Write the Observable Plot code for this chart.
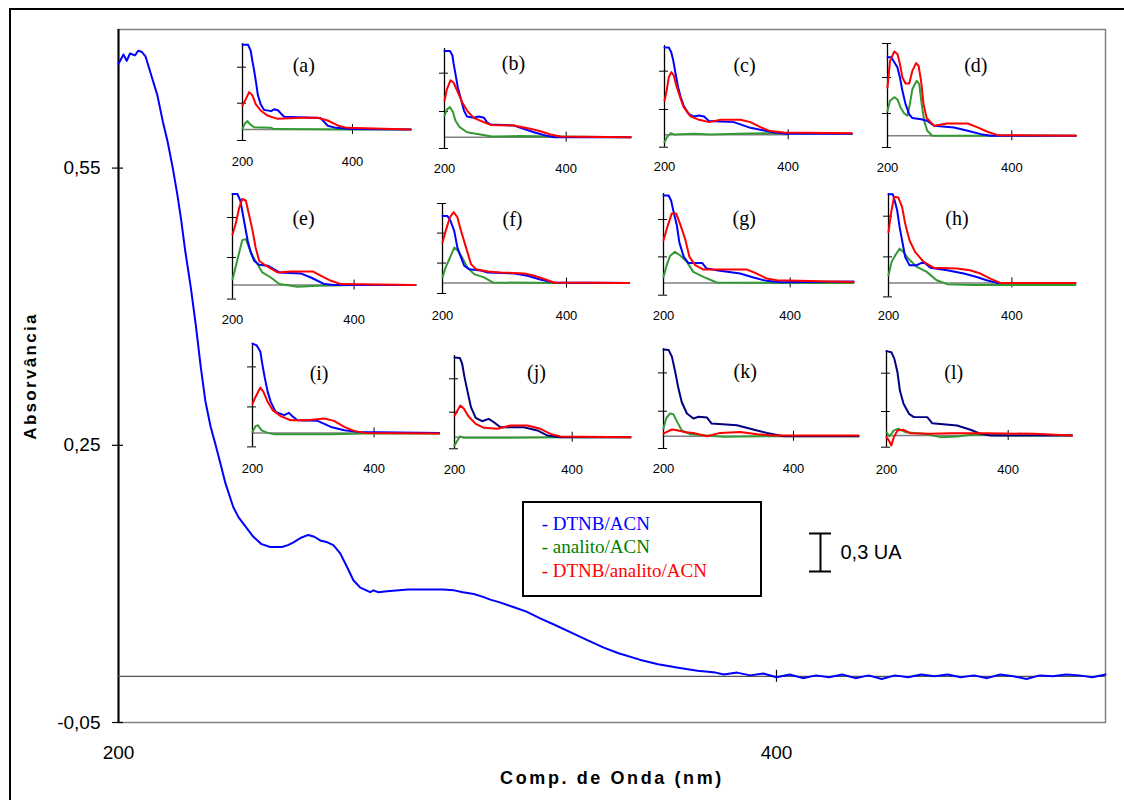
<!DOCTYPE html>
<html><head><meta charset="utf-8">
<script src="https://cdn.jsdelivr.net/npm/d3@7"></script>
<script src="https://cdn.jsdelivr.net/npm/@observablehq/plot@0.6"></script>
<style>
body{margin:0;background:#fff;}
#wrap{position:relative;width:1124px;height:800px;overflow:hidden;font-family:"Liberation Sans",Arial,sans-serif;background:#fff;}
#wrap svg{position:absolute;overflow:visible;}
#outer{position:absolute;left:9px;top:8px;width:1300px;height:1000px;border:2px solid #000;box-sizing:border-box;}
#legend{position:absolute;left:521.7px;top:500.7px;width:240px;height:96.6px;border:2px solid #000;box-sizing:border-box;padding:9px 0 0 18px;font-family:"Liberation Serif","Times New Roman",serif;font-size:19px;line-height:23.4px;background:#fff;}
</style></head><body><div id="wrap"><div id="outer"></div></div>
<script>
// ---------- main spectrum (DTNB/ACN) ----------
const mainWavelength = [200,201.5,202.5,203.5,205,206,207,208.2,210,211.8,213.5,214.9,216.5,217.9,219,220.3,222,223.5,225,226.4,228,229.4,231,232.5,234.9,236.5,238,241,243.5,246.1,249.7,251.5,253.2,255.5,257.7,259.5,261.3,263.5,265.3,267.4,269.5,271.4,273.5,276.5,277.5,279,281.6,288,298.6,302,304.7,308,310.8,313,315.9,320,324,328,333,337.8,342,347.5,352,358.4,364,370.6,376,381.5,384,388,392,396,400,404,408,412,416,420,424,428,432,436,440,444,448,452,456,460,464,468,472,476,480,484,488,492,496,500];
const mainAbsorbance = [0.663,0.673,0.666,0.674,0.672,0.677,0.676,0.671,0.650,0.629,0.600,0.579,0.550,0.521,0.495,0.460,0.420,0.380,0.335,0.298,0.270,0.252,0.230,0.209,0.183,0.172,0.165,0.151,0.143,0.140,0.140,0.142,0.145,0.150,0.153,0.151,0.147,0.145,0.142,0.133,0.118,0.104,0.096,0.091,0.093,0.091,0.092,0.094,0.094,0.093,0.091,0.089,0.086,0.083,0.080,0.075,0.070,0.063,0.055,0.047,0.040,0.031,0.025,0.018,0.013,0.009,0.006,0.004,0.002,0.004,0.001,0.003,-0.001,0.002,-0.002,0.001,-0.001,0.002,-0.002,0.001,-0.003,0.001,-0.001,0.002,0.000,0.002,-0.001,0.001,-0.002,0.002,0.000,-0.003,0.001,0.000,0.002,0.001,-0.001,0.002];
const mainYTicks = [0.55, 0.25, -0.05];
const mainXTicks = [200, 400];

// ---------- inset spectra [nm, absorbance] ----------
const a_DTNB = [[200,0.67],[210,0.67],[215,0.62],[218,0.54],[221,0.47],[225,0.36],[228,0.27],[233,0.20],[239,0.155],[252,0.145],[258,0.16],[265,0.15],[270,0.125],[276,0.10],[342,0.09],[355,0.03],[370,0.013],[397,0.003],[506,0]];
const a_Analito = [[200,0.005],[204,0.045],[209,0.066],[214,0.04],[221,0.018],[252,0.013],[258,0.003],[403,0],[506,0]];
const a_Mix = [[200,0.19],[206,0.24],[212,0.295],[218,0.27],[224,0.20],[233,0.15],[245,0.11],[264,0.084],[306,0.092],[336,0.092],[355,0.071],[373,0.032],[390,0.013],[506,0]];

const b_DTNB = [[200,0.68],[209,0.68],[213,0.645],[215,0.58],[218,0.50],[222,0.39],[226,0.32],[232,0.21],[237,0.163],[248,0.153],[256,0.163],[265,0.153],[270,0.118],[276,0.10],[314,0.092],[330,0.066],[347,0.039],[366,0.013],[380,0],[506,0]];
const b_Analito = [[200,0.17],[204,0.22],[209,0.237],[214,0.197],[218,0.13],[225,0.079],[237,0.039],[254,0.026],[278,0.005],[325,0.01],[380,0.005],[506,0]];
const b_Mix = [[200,0.29],[204,0.38],[210,0.45],[215,0.43],[222,0.355],[229,0.276],[237,0.21],[248,0.153],[265,0.118],[276,0.097],[314,0.092],[341,0.066],[358,0.047],[374,0.021],[391,0.005],[506,0]];

const c_DTNB = [[200,0.69],[207,0.69],[211,0.65],[214,0.59],[218,0.48],[222,0.376],[226,0.30],[231,0.23],[239,0.166],[247,0.145],[256,0.153],[264,0.145],[272,0.108],[312,0.10],[339,0.055],[361,0.034],[377,0.018],[398,0.008],[503,0.008]];
const c_Analito = [[200,-0.058],[204,-0.018],[210,0.013],[215,0.003],[247,0.008],[274,0.003],[318,0.008],[377,0.013],[503,0.008]];
const c_Mix = [[200,0.27],[203,0.337],[207,0.455],[211,0.495],[215,0.468],[219,0.39],[225,0.30],[231,0.218],[242,0.145],[256,0.118],[272,0.10],[291,0.118],[323,0.118],[339,0.10],[355,0.06],[371,0.029],[393,0.018],[503,0.013]];

const d_DTNB = [[200,0.62],[206,0.62],[211,0.58],[216,0.54],[220,0.46],[224,0.355],[229,0.25],[235,0.17],[240,0.14],[254,0.13],[264,0.118],[275,0.079],[307,0.066],[329,0.04],[350,0.013],[366,0],[503,0]];
const d_Analito = [[200,0.197],[204,0.276],[211,0.305],[216,0.287],[221,0.224],[227,0.176],[232,0.158],[236,0.25],[240,0.368],[247,0.434],[251,0.41],[255,0.25],[259,0.118],[264,0.04],[272,0],[503,0]];
const d_Mix = [[200,0.38],[204,0.59],[211,0.666],[216,0.645],[220,0.566],[224,0.46],[229,0.413],[235,0.413],[240,0.513],[246,0.574],[250,0.553],[254,0.434],[258,0.25],[263,0.14],[275,0.079],[296,0.097],[329,0.097],[345,0.066],[361,0.032],[377,0.005],[503,0]];

const e_DTNB = [[200,0.72],[208,0.72],[213,0.666],[216,0.587],[220,0.48],[225,0.35],[230,0.258],[236,0.19],[244,0.16],[258,0.153],[268,0.126],[277,0.10],[312,0.092],[329,0.06],[351,0.008],[367,0],[501,0]];
const e_Analito = [[200,0.047],[205,0.14],[211,0.258],[216,0.355],[222,0.363],[227,0.297],[233,0.23],[241,0.166],[249,0.10],[263,0.06],[277,0.008],[307,-0.013],[340,-0.005],[400,0],[501,0]];
const e_Mix = [[200,0.40],[205,0.48],[211,0.61],[216,0.68],[222,0.666],[227,0.56],[233,0.43],[238,0.297],[244,0.19],[255,0.153],[274,0.10],[296,0.108],[332,0.108],[345,0.074],[362,0.034],[378,0.008],[501,0]];

const f_DTNB = [[200,0.53],[208,0.53],[213,0.49],[219,0.41],[224,0.28],[230,0.20],[235,0.137],[243,0.11],[262,0.10],[273,0.084],[316,0.076],[337,0.058],[359,0.026],[380,0.005],[501,0]];
const f_Analito = [[200,0.045],[205,0.124],[212,0.20],[219,0.28],[225,0.255],[232,0.20],[240,0.124],[251,0.071],[267,0.045],[281,0.005],[380,0],[501,0]];
const f_Mix = [[200,0.32],[205,0.41],[212,0.52],[218,0.56],[224,0.52],[230,0.41],[238,0.28],[246,0.15],[254,0.11],[273,0.092],[294,0.084],[332,0.076],[348,0.058],[364,0.032],[380,0.005],[501,0]];

const g_DTNB = [[200,0.69],[208,0.69],[212,0.65],[216,0.56],[221,0.455],[225,0.32],[232,0.205],[239,0.158],[261,0.158],[268,0.113],[289,0.095],[321,0.074],[342,0.042],[363,0.016],[384,0.005],[500,0.01]];
const g_Analito = [[200,0.047],[205,0.14],[210,0.21],[218,0.245],[226,0.218],[237,0.166],[247,0.087],[263,0.047],[284,0.003],[389,0],[500,0]];
const g_Mix = [[200,0.337],[206,0.44],[213,0.547],[220,0.547],[226,0.468],[234,0.35],[241,0.205],[250,0.14],[263,0.105],[295,0.105],[332,0.105],[347,0.074],[363,0.034],[379,0.021],[500,0.008]];

const h_DTNB = [[200,0.70],[207,0.70],[210,0.65],[214,0.574],[218,0.44],[222,0.337],[227,0.205],[234,0.14],[246,0.14],[257,0.166],[268,0.12],[295,0.10],[322,0.074],[343,0.047],[359,0.021],[376,0],[503,0]];
const h_Analito = [[200,0.06],[205,0.166],[211,0.218],[218,0.27],[224,0.245],[232,0.192],[246,0.126],[262,0.087],[278,0.021],[295,-0.01],[338,-0.016],[503,-0.016]];
const h_Mix = [[200,0.40],[204,0.547],[209,0.68],[216,0.674],[222,0.60],[227,0.468],[234,0.337],[243,0.245],[257,0.166],[273,0.12],[311,0.113],[332,0.10],[349,0.074],[365,0.034],[381,0],[503,0]];

const i_DTNB = [[200,0.705],[207,0.69],[213,0.64],[216,0.547],[220,0.44],[225,0.324],[230,0.245],[238,0.166],[252,0.14],[260,0.158],[266,0.13],[274,0.10],[307,0.095],[329,0.047],[351,0.021],[373,0.008],[507,0]];
const i_Analito = [[200,0.008],[205,0.053],[209,0.06],[215,0.02],[225,0],[236,-0.01],[329,-0.01],[384,-0.005],[507,-0.005]];
const i_Mix = [[200,0.23],[205,0.284],[213,0.358],[218,0.324],[225,0.245],[233,0.18],[247,0.13],[263,0.10],[290,0.10],[318,0.113],[334,0.095],[351,0.047],[367,0.016],[384,0],[507,-0.005]];

const j_DTNB = [[200,0.63],[209,0.626],[213,0.58],[217,0.474],[223,0.342],[228,0.237],[236,0.153],[247,0.126],[258,0.145],[267,0.118],[278,0.079],[318,0.079],[341,0.053],[358,0.013],[380,0],[499,0]];
const j_Analito = [[200,-0.066],[205,-0.026],[209,0.005],[216,-0.005],[273,-0.005],[386,0],[499,0]];
const j_Mix = [[200,0.17],[205,0.21],[210,0.25],[216,0.224],[224,0.163],[236,0.105],[250,0.074],[273,0.066],[295,0.092],[324,0.092],[346,0.066],[363,0.026],[380,0.005],[499,0]];

const k_DTNB = [[200,0.684],[208,0.68],[213,0.626],[218,0.508],[223,0.376],[228,0.27],[236,0.179],[246,0.14],[254,0.153],[267,0.147],[274,0.10],[313,0.087],[338,0.053],[359,0.026],[385,0],[500,0]];
const k_Analito = [[200,0.06],[204,0.14],[210,0.18],[215,0.174],[221,0.113],[228,0.047],[241,0.016],[292,-0.005],[369,0],[500,0]];
const k_Mix = [[200,0.021],[205,0.034],[213,0.053],[221,0.047],[231,0.034],[246,0.026],[267,0],[287,0.026],[318,0.034],[344,0.016],[369,0.005],[500,0.005]];

const l_DTNB = [[200,0.666],[208,0.658],[213,0.605],[218,0.50],[222,0.355],[228,0.25],[237,0.171],[245,0.145],[267,0.145],[275,0.097],[316,0.079],[338,0.045],[355,0.013],[371,0],[505,0]];
const l_Analito = [[200,0.026],[205,-0.008],[212,0.04],[220,0.053],[231,0.026],[261,0.013],[289,-0.013],[316,-0.008],[344,0.008],[398,0],[505,0]];
const l_Mix = [[200,-0.013],[204,-0.04],[208,-0.079],[212,-0.013],[218,0.04],[228,0.045],[239,0.018],[272,0.013],[305,0.018],[365,0.018],[442,0.013],[505,0]];

const insetLetters = ["(a)","(b)","(c)","(d)","(e)","(f)","(g)","(h)","(i)","(j)","(k)","(l)"];
const insetXTicks = [200, 400];
const legendLabels = ["- DTNB/ACN", "- analito/ACN", "- DTNB/analito/ACN"];
const scaleBarUA = 0.3;

// ---------- layout (pixels) ----------
const K = 38 / 0.3;            // inset px per absorbance unit (0,3 UA bar = 38 px)
const BLUE = "#0000ff", NAVY = "#000080", GREEN = "#339933", RED = "#ff0000";
const insetSeries = [
  [a_DTNB,a_Analito,a_Mix],[b_DTNB,b_Analito,b_Mix],[c_DTNB,c_Analito,c_Mix],[d_DTNB,d_Analito,d_Mix],
  [e_DTNB,e_Analito,e_Mix],[f_DTNB,f_Analito,f_Mix],[g_DTNB,g_Analito,g_Mix],[h_DTNB,h_Analito,h_Mix],
  [i_DTNB,i_Analito,i_Mix],[j_DTNB,j_Analito,j_Mix],[k_DTNB,k_Analito,k_Mix],[l_DTNB,l_Analito,l_Mix]
];
const insetLayout = [
  {L:241.7, X4:351.7, T:43,    B:140,   Z:129,   ticks:[66.7,102.7,140],           labY:161.7, tx:303,   ty:65},
  {L:444,   X4:565.7, T:48,    B:148,   Z:136.7, ticks:[72.7,111,148],             labY:168,   tx:513,   ty:63},
  {L:664,   X4:787.7, T:45,    B:146.7, Z:134.3, ticks:[70.7,109,146.7],           labY:166.7, tx:744,   ty:65},
  {L:886.7, X4:1011,  T:42.7,  B:146.7, Z:135,   ticks:[42.7,76.7,112.7,146.7],    labY:166.7, tx:975,   ty:65},
  {L:231.7, X4:353.3, T:192.7, B:298.3, Z:284.3, ticks:[216.7,256.7,298.3],        labY:319.3, tx:302.7, ty:217.3},
  {L:441.7, X4:565.7, T:202.7, B:292.7, Z:282.3, ticks:[202.7,232.3,262.3,292.7],  labY:315,   tx:511.7, ty:218.3},
  {L:663.3, X4:790,   T:193.3, B:295,   Z:282.7, ticks:[219.3,256.7,295],          labY:316,   tx:744,   ty:218.3},
  {L:888.3, X4:1011.7,T:193.3, B:296.7, Z:282.7, ticks:[216,256.7,296.7],          labY:316,   tx:956.7, ty:218.3},
  {L:251.7, X4:373.3, T:343.3, B:446.7, Z:432.7, ticks:[366.7,406.7,446.7],        labY:469,   tx:318.3, ty:373.3},
  {L:454,   X4:571.7, T:355,   B:448.3, Z:436.7, ticks:[378.3,411.7,448.3],        labY:469,   tx:536,   ty:371.7},
  {L:663.3, X4:793.3, T:348.3, B:448.3, Z:436,   ticks:[372.7,411,448.3],          labY:469,   tx:745,   ty:371.7},
  {L:886,   X4:1007.7,T:350,   B:446.7, Z:435,   ticks:[372.7,411,446.7],          labY:469,   tx:953.3, ty:371.7}
];

const wrap = document.getElementById("wrap");
const fmtComma = d => d.toFixed(2).replace(".", ",");
const mainData = mainWavelength.map((w, i) => ({w, a: mainAbsorbance[i]}));

// ---------- main chart ----------
const main = Plot.plot({
  width: 1124, height: 800,
  marginLeft: 118, marginRight: 19, marginTop: 29, marginBottom: 78,
  x: {domain: [200, 500], axis: null},
  y: {domain: [-0.05, 0.70], axis: null},
  style: {background: "transparent", fontFamily: "'Liberation Sans', Arial, sans-serif", color: "#000"},
  marks: [
    Plot.frame({stroke: "#808080", strokeWidth: 1.5}),
    Plot.ruleX([200], {stroke: "#000", strokeWidth: 2}),
    Plot.ruleY([0], {stroke: "#555", strokeWidth: 1.3}),
    Plot.ruleY(mainYTicks, {y: d => d, x1: 200, x2: 200, insetLeft: -6, insetRight: -5, stroke: "#000", strokeWidth: 1.2}),
    Plot.ruleX([400], {x: d => d, y1: 0, y2: 0, insetTop: -6, insetBottom: -6, stroke: "#000", strokeWidth: 1.2}),
    Plot.line(mainData, {x: "w", y: "a", stroke: BLUE, strokeWidth: 2}),
    Plot.text(mainYTicks, {x: 200, y: d => d, dx: -18, textAnchor: "end", text: fmtComma, fontSize: 19}),
    Plot.text(mainXTicks, {x: d => d, y: -0.05, dy: 30, text: d => String(d), fontSize: 19}),
    Plot.text(["Comp. de Onda (nm)"], {frameAnchor: "bottom", dy: 56, lineAnchor: "middle", textAnchor: "middle", fontSize: 18, fontWeight: "bold"}),
    Plot.text(["Absorvância"], {frameAnchor: "left", dx: -88, rotate: -90, textAnchor: "middle", lineAnchor: "middle", fontSize: 17, fontWeight: "bold"})
  ]
});
main.style.left = "0px"; main.style.top = "0px";
wrap.appendChild(main);
d3.select(main).selectAll("text").filter(function(){ return this.textContent === "Comp. de Onda (nm)"; }).attr("letter-spacing", "2.6px");
d3.select(main).selectAll("text").filter(function(){ return this.textContent === "Absorvância"; }).attr("letter-spacing", "2.3px");

// ---------- insets ----------
insetLayout.forEach((g, idx) => {
  const [dtnb, analito, mix] = insetSeries[idx];
  const s = (g.X4 - g.L) / 200;
  const mL = 16, mR = 3, mT = 2;
  const xMax = 510;
  const width = mL + (xMax - 200) * s + mR;
  const yTop = (g.Z - g.T) / K, yBot = -(g.B - g.Z) / K;
  const mB = g.labY - g.B + 12;
  const height = mT + (g.B - g.T) + mB;
  const tickVals = g.ticks.map(t => (g.Z - t) / K);
  const blue = idx >= 9 ? NAVY : BLUE;
  const svg = Plot.plot({
    width, height, marginLeft: mL, marginRight: mR, marginTop: mT, marginBottom: mB,
    x: {domain: [200, xMax], axis: null},
    y: {domain: [yBot, yTop], axis: null},
    style: {background: "transparent", fontFamily: "'Liberation Sans', Arial, sans-serif", color: "#000"},
    marks: [
      Plot.ruleY([0], {y: d => d, x1: 200, x2: 400, stroke: "#808080", strokeWidth: 1.5}),
      Plot.ruleX([200], {x: d => d, y1: yBot, y2: yTop, stroke: "#000", strokeWidth: 1.3}),
      Plot.ruleY(tickVals, {y: d => d, x1: 200, x2: 200, insetLeft: -5, insetRight: -4, stroke: "#000", strokeWidth: 1}),
      Plot.ruleX([400], {x: d => d, y1: 0, y2: 0, insetTop: -5, insetBottom: -5, stroke: "#000", strokeWidth: 1}),
      Plot.line(analito, {x: d => d[0], y: d => d[1], stroke: GREEN, strokeWidth: 2}),
      Plot.line(dtnb, {x: d => d[0], y: d => d[1], stroke: blue, strokeWidth: 2}),
      Plot.line(mix, {x: d => d[0], y: d => d[1], stroke: RED, strokeWidth: 2}),
      Plot.text(insetXTicks, {x: d => d, y: yBot, dy: g.labY - g.B, text: d => String(d), fontSize: 13}),
      Plot.text([insetLetters[idx]], {frameAnchor: "top-left", dx: g.tx - g.L, dy: g.ty - g.T, textAnchor: "middle", lineAnchor: "middle", fontSize: 20, fontFamily: "'Liberation Serif', 'Times New Roman', serif"})
    ]
  });
  svg.style.left = (g.L - mL) + "px";
  svg.style.top = (g.T - mT) + "px";
  wrap.appendChild(svg);
});

// ---------- scale bar ----------
const bar = Plot.plot({
  width: 26, height: 38 + 4, margin: 2,
  x: {domain: [0, 1], axis: null},
  y: {domain: [0, scaleBarUA], axis: null},
  style: {background: "transparent", fontFamily: "'Liberation Sans', Arial, sans-serif", color: "#000"},
  marks: [
    Plot.ruleX([0.5], {x: d => d, y1: 0, y2: scaleBarUA, stroke: "#000", strokeWidth: 2}),
    Plot.ruleY([0, scaleBarUA], {y: d => d, x1: 0, x2: 1, stroke: "#000", strokeWidth: 2}),
    Plot.text([`${String(scaleBarUA).replace(".", ",")} UA`], {x: 1, y: scaleBarUA / 2, dx: 9, textAnchor: "start", fontSize: 20})
  ]
});
bar.style.left = "807px"; bar.style.top = "530.7px";
wrap.appendChild(bar);

// ---------- legend ----------
const legend = document.createElement("div");
legend.id = "legend";
[[legendLabels[0], BLUE], [legendLabels[1], "#008000"], [legendLabels[2], RED]].forEach(([t, c]) => {
  const row = document.createElement("div");
  row.textContent = t; row.style.color = c;
  legend.appendChild(row);
});
wrap.appendChild(legend);
</script></body></html>
